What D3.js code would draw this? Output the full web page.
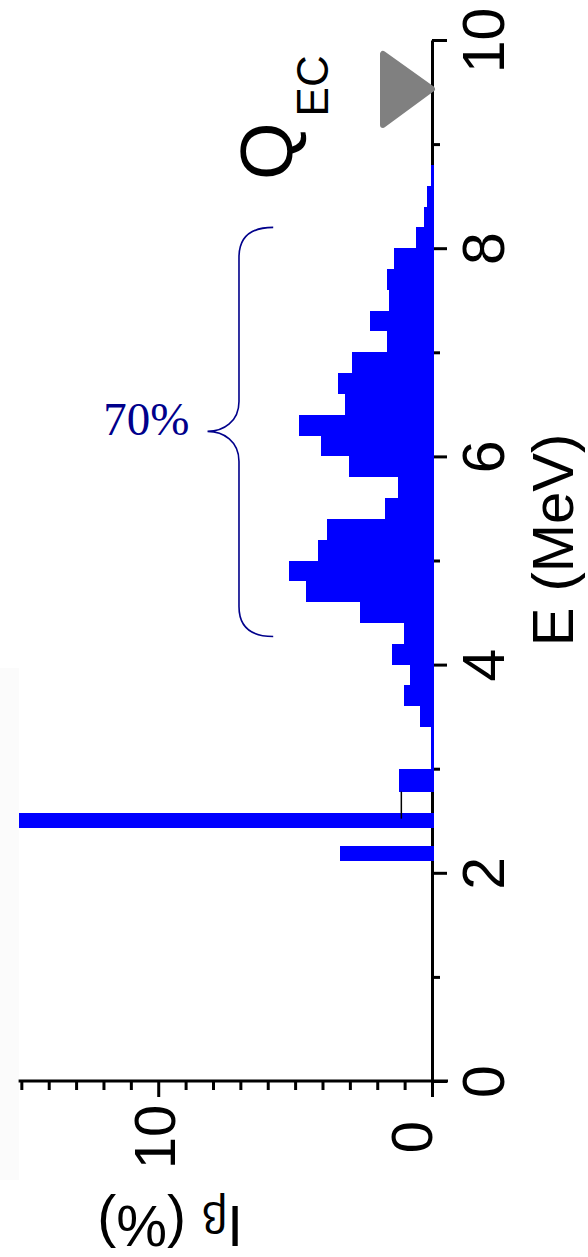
<!DOCTYPE html>
<html>
<head>
<meta charset="utf-8">
<script src="https://d3js.org/d3.v7.min.js"></script>
<style>
  body { margin: 0; background: #fff; }
  svg { display: block; }
  text { font-family: "Liberation Sans", Arial, sans-serif; }
</style>
</head>
<body>
<div id="chart"></div>
<script>
// continuum bins (0.2 MeV wide), lower edge in MeV
const binStart = [3.0, 3.2, 3.4, 3.6, 3.8, 4.0, 4.2, 4.4, 4.6, 4.8,
                  5.0, 5.2, 5.4, 5.6, 5.8, 6.0, 6.2, 6.4, 6.6, 6.8,
                  7.0, 7.2, 7.4, 7.6, 7.8, 8.0, 8.2, 8.4, 8.6];
const binValue = [0.05, 0.05, 0.45, 1.04, 0.79, 1.46, 1.04, 2.64, 4.59, 5.24,
                  4.17, 3.83, 1.70, 1.26, 3.04, 4.04, 4.84, 3.19, 3.44, 2.91,
                  1.64, 2.26, 1.58, 1.64, 1.37, 0.57, 0.30, 0.18, 0.05];
const binWidth = 0.2;

// discrete levels: [E low, E high, Iβ %]
const levelLow = [2.11, 2.43, 2.78];
const levelHigh = [2.26, 2.57, 3.0];
const levelValue = [3.35, 15.1, 1.2];

// thin black connector line
const lineValue = 1.12;
const lineE = [2.52, 2.78];

const qEC = 9.53;
const braceE = [4.27, 6.24, 8.2];   // bottom, tip, top
const braceI = [5.8, 7.05, 8.2];    // end, spine, tip
const braceLabel = "70%";

const eMajor = [0, 2, 4, 6, 8, 10];
const eMinor = [1, 3, 5, 7, 9];
const iMajor = [0, 10];
const iMinor = [1, 2, 3, 4, 5, 6, 7, 8, 9, 11, 12, 13, 14, 15];

const W = 588, H = 1257;

const svg = d3.select("#chart").append("svg")
    .attr("width", W)
    .attr("height", H);

// faint grey strip at left edge
svg.append("rect")
    .attr("x", 0).attr("y", 668)
    .attr("width", 19).attr("height", 512)
    .attr("fill", "#fbfbfb");

// E runs upward, Iβ runs leftward
const yE = d3.scaleLinear().domain([0, 10]).range([1081, 40]);
const xI = d3.scaleLinear().domain([0, 15.1]).range([432, 18.6]);

// E axis
const eAxis = svg.append("g")
    .attr("transform", `translate(${xI(0)},0)`)
    .call(d3.axisRight(yE).tickValues(eMajor).tickSize(15).tickSizeOuter(0));
svg.append("g")
    .attr("transform", `translate(${xI(0)},0)`)
    .call(d3.axisRight(yE).tickValues(eMinor).tickSize(8).tickSizeOuter(0).tickFormat(""))
    .select(".domain").remove();

eAxis.selectAll("text")
    .attr("x", null).attr("dy", null)
    .attr("transform", "translate(72,0) rotate(-90)")
    .attr("text-anchor", "middle")
    .style("font-size", "59px")
    .attr("fill", "#000");

// Iβ axis
const iAxis = svg.append("g")
    .attr("transform", `translate(0,${yE(0)})`)
    .call(d3.axisBottom(xI).tickValues(iMajor).tickSize(16).tickSizeOuter(0));
svg.append("g")
    .attr("transform", `translate(0,${yE(0)})`)
    .call(d3.axisBottom(xI).tickValues(iMinor).tickSize(9).tickSizeOuter(0).tickFormat(""))
    .select(".domain").remove();

iAxis.select(".domain").attr("d", `M${xI(0) + 16},0H${xI(15.1)}`);
const iNudge = {0: -1, 10: 16};
iAxis.selectAll("text")
    .attr("y", null).attr("dy", null)
    .attr("transform", d => `translate(${iNudge[d]},56) rotate(-90)`)
    .attr("text-anchor", "middle")
    .style("font-size", "58px")
    .attr("fill", "#000");

svg.selectAll(".domain, .tick line")
    .attr("stroke", "#000")
    .attr("stroke-width", 3);

// continuum bars
svg.append("g").selectAll("rect")
    .data(binStart)
    .join("rect")
    .attr("x", (d, i) => xI(binValue[i]))
    .attr("y", d => yE(d + binWidth))
    .attr("width", (d, i) => xI(0) + 1.5 - xI(binValue[i]))
    .attr("height", d => yE(d) - yE(d + binWidth))
    .attr("fill", "#0000ff")
    .attr("shape-rendering", "crispEdges");

// discrete levels
svg.append("g").selectAll("rect")
    .data(levelLow)
    .join("rect")
    .attr("x", (d, i) => xI(levelValue[i]))
    .attr("y", (d, i) => yE(levelHigh[i]))
    .attr("width", (d, i) => xI(0) + 1.5 - xI(levelValue[i]))
    .attr("height", (d, i) => yE(d) - yE(levelHigh[i]))
    .attr("fill", "#0000ff")
    .attr("shape-rendering", "crispEdges");

svg.append("line")
    .attr("x1", xI(lineValue)).attr("x2", xI(lineValue))
    .attr("y1", yE(lineE[0])).attr("y2", yE(lineE[1]))
    .attr("stroke", "#000")
    .attr("stroke-width", 1.5);

// Q_EC marker
const qy = yE(qEC);
const tipX = xI(0) + 2;
svg.append("path")
    .attr("d", `M${tipX - 2},${qy} L${tipX - 51},${qy - 35} L${tipX - 51},${qy + 36} Z`)
    .attr("fill", "#808080")
    .attr("stroke", "#808080")
    .attr("stroke-width", 6)
    .attr("stroke-linejoin", "round");

const qLabel = svg.append("text")
    .attr("transform", "translate(292,180) rotate(-90)")
    .attr("fill", "#000");
qLabel.append("tspan").style("font-size", "74px").text("Q");
qLabel.append("tspan").style("font-size", "44px").attr("dx", 6).attr("dy", 36).text("EC");

// brace
const bx0 = xI(braceI[0]), bx1 = xI(braceI[1]), bx2 = xI(braceI[2]);
const by0 = yE(braceE[2]), by1 = yE(braceE[1]), by2 = yE(braceE[0]);
const r = 30;
svg.append("path")
    .attr("d", `M${bx0},${by0}
      C${bx1 + 12},${by0} ${bx1},${by0 + 10} ${bx1},${by0 + r}
      L${bx1},${by1 - r}
      C${bx1},${by1 - 10} ${bx2 + 16},${by1} ${bx2},${by1}
      C${bx2 + 16},${by1} ${bx1},${by1 + 10} ${bx1},${by1 + r}
      L${bx1},${by2 - r}
      C${bx1},${by2 - 10} ${bx1 + 12},${by2} ${bx0},${by2}`)
    .attr("fill", "none")
    .attr("stroke", "#00008b")
    .attr("stroke-width", 1.6);

svg.append("text")
    .attr("x", bx2 - 18)
    .attr("y", by1 + 4)
    .attr("text-anchor", "end")
    .style("font-family", "'Liberation Serif', 'Times New Roman', serif")
    .style("font-size", "47px")
    .attr("fill", "#00008b")
    .text(braceLabel);

// axis titles
svg.append("text")
    .attr("transform", "translate(573,540) rotate(-90)")
    .attr("text-anchor", "middle")
    .style("font-size", "58px")
    .attr("fill", "#000")
    .text("E (MeV)");

const iTitle = svg.append("text")
    .attr("transform", "translate(243,1206) rotate(180)")
    .attr("fill", "#000");
iTitle.append("tspan").style("font-size", "57px").text("I");
iTitle.append("tspan").style("font-size", "44px").attr("dy", 4).text("β");
iTitle.append("tspan").style("font-size", "57px").attr("dy", -4).text(" (%)");
</script>
</body>
</html>
